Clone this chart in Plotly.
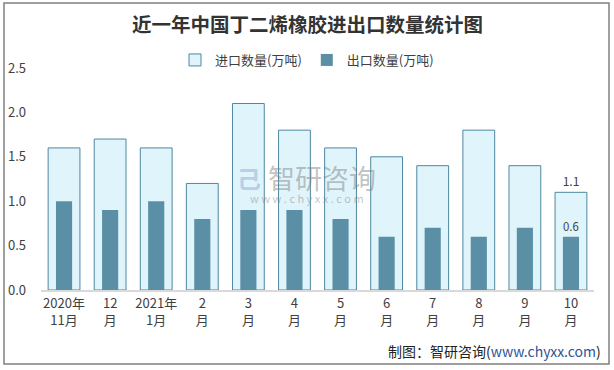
import plotly.graph_objects as go

categories = ["2020年<br>11月", "12<br>月", "2021年<br>1月", "2<br>月", "3<br>月", "4<br>月",
              "5<br>月", "6<br>月", "7<br>月", "8<br>月", "9<br>月", "10<br>月"]
import_vals = [1.6, 1.7, 1.6, 1.2, 2.1, 1.8, 1.6, 1.5, 1.4, 1.8, 1.4, 1.1]
export_vals = [1.0, 0.9, 1.0, 0.8, 0.9, 0.9, 0.8, 0.6, 0.7, 0.6, 0.7, 0.6]
y_ticks = [0.0, 0.5, 1.0, 1.5, 2.0, 2.5]

W, H = 614, 370
ml, mr, mt, mb = 41, 20, 68, 80
pw, ph = W - ml - mr, H - mt - mb

def px_to_paper(x, y):
    return (x - ml) / pw, (H - mb - y) / ph

imp_text = [""] * (len(import_vals) - 1) + [f"{import_vals[-1]:.1f}"]
exp_text = [""] * (len(export_vals) - 1) + [f"{export_vals[-1]:.1f}"]

fig = go.Figure()
fig.add_trace(go.Bar(
    x=categories, y=import_vals, name="进口数量(万吨)", width=0.69,
    marker=dict(color="#e0f4fb", line=dict(color="#4f87a1", width=1)),
    text=imp_text, textposition="outside", cliponaxis=False,
    textfont=dict(size=12, color="#404040"),
))
fig.add_trace(go.Bar(
    x=categories, y=export_vals, name="出口数量(万吨)", width=0.35,
    marker=dict(color="#5b8fa6", line=dict(width=0)),
    text=exp_text, textposition="outside", cliponaxis=False,
    textfont=dict(size=12, color="#404040"),
))

x0, y0 = px_to_paper(4, 3)
x1, y1 = px_to_paper(609, 364)
shapes = [dict(type="rect", xref="paper", yref="paper", x0=x0, y0=y1, x1=x1, y1=y0,
               line=dict(color="#808080", width=1.5), fillcolor="rgba(0,0,0,0)", layer="below")]

ann = []
tx, ty = px_to_paper(307, 23)
ann.append(dict(text="<b>近一年中国丁二烯橡胶进出口数量统计图</b>", xref="paper", yref="paper",
                x=tx, y=ty, showarrow=False, font=dict(size=19.5, color="#333333"),
                xanchor="center", yanchor="middle"))
sx, sy = px_to_paper(603, 351)
ann.append(dict(text="制图：智研咨询(<span style='color:#2f5597'>www.chyxx.com</span>)",
                xref="paper", yref="paper", x=sx, y=sy, showarrow=False,
                font=dict(size=14, color="#222222"), xanchor="right", yanchor="middle"))
wx, wy = px_to_paper(322, 177)
ann.append(dict(text="智研咨询", xref="paper", yref="paper", x=wx, y=wy, showarrow=False,
                font=dict(size=27, color="rgba(120,120,120,0.45)"), xanchor="center", yanchor="middle"))
wx2, wy2 = px_to_paper(307, 198)
ann.append(dict(text="w w w . c h y x x . c o m", xref="paper", yref="paper", x=wx2, y=wy2,
                showarrow=False, font=dict(size=11, color="rgba(120,120,120,0.45)"),
                xanchor="center", yanchor="middle"))
lx, ly = px_to_paper(249, 177)
ann.append(dict(text="<b>己</b>", xref="paper", yref="paper", x=lx, y=ly, showarrow=False,
                font=dict(size=24, color="rgba(110,150,200,0.4)"), xanchor="center", yanchor="middle"))

lgx, lgy = px_to_paper(307, 60)
fig.update_layout(
    width=W, height=H, margin=dict(l=ml, r=mr, t=mt, b=mb, autoexpand=False),
    paper_bgcolor="white", plot_bgcolor="white",
    barmode="overlay", bargap=0.3,
    font=dict(family="Noto Sans CJK SC, Noto Sans, sans-serif", color="#404040"),
    showlegend=True,
    legend=dict(orientation="h", x=lgx, y=lgy, xanchor="center", yanchor="middle",
                font=dict(size=13, color="#404040"), itemwidth=30, traceorder="normal",
                bgcolor="rgba(0,0,0,0)"),
    xaxis=dict(showline=True, linecolor="#d9d9d9", linewidth=2, showgrid=False, automargin=False,
               ticks="", tickfont=dict(size=13, color="#404040"), fixedrange=True),
    yaxis=dict(range=[0, 2.5], tickvals=y_ticks, ticktext=[f"{v:.1f}" for v in y_ticks],
               showgrid=False, showline=False, zeroline=False, ticks="", automargin=False,
               tickfont=dict(size=13, color="#404040"), ticklabelstandoff=14),
    shapes=shapes, annotations=ann,
)

fig.write_html("out.html", config={"displayModeBar": False},
               post_script="document.body.style.margin='0';document.body.style.overflow='hidden';")
